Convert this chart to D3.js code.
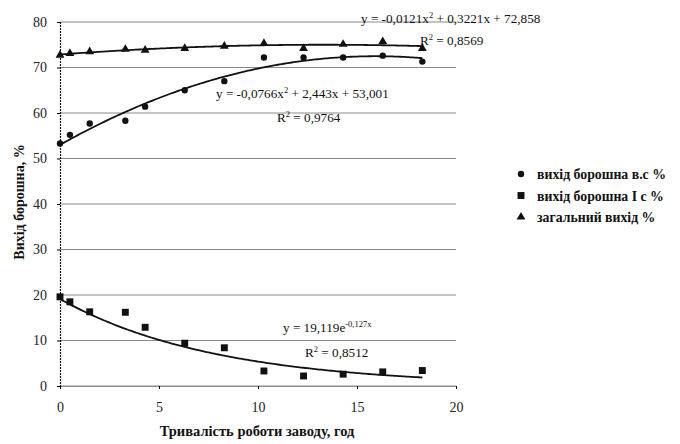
<!DOCTYPE html>
<meta charset="utf-8">
<script src="https://cdn.jsdelivr.net/npm/d3@7"></script>
<style>
body { margin: 0; background: #fff; }
text { font-family: "Liberation Serif", "DejaVu Serif", serif; fill: #111; }
.grid line { stroke: #8a8a8a; stroke-width: 1px; }
.axis text { font-size: 14px; fill: #222; }
.trend { fill: none; stroke: #111; stroke-width: 1.8px; }
.eq { font-size: 13.2px; }
.legend text { font-size: 13.8px; font-weight: bold; }
</style>
<body>
<script>

// hours of mill operation
var hours = [0, 0.5, 1.5, 3.3, 4.3, 6.3, 8.3, 10.3, 12.3, 14.3, 16.3, 18.3];

// flour yields, %
var yieldTop = [53.3, 55.2, 57.7, 58.3, 61.4, 65.0, 67.0, 72.2, 72.2, 72.2, 72.6, 71.3];
var yieldFirst = [19.6, 18.5, 16.3, 16.2, 12.9, 9.4, 8.4, 3.3, 2.2, 2.6, 3.1, 3.4];
var yieldTotal = [72.7, 73.1, 73.5, 74.0, 73.8, 74.2, 74.7, 75.3, 74.2, 75.1, 75.7, 74.2];

var seriesNames = ["вихід борошна в.с %", "вихід борошна I с %", "загальний вихід %"];

// trend line coefficients as printed on the chart
var polyTop = [53.001, 2.443, -0.0766];
var polyTotal = [72.858, 0.3221, -0.0121];
var expFirst = [19.119, -0.127];

var xTicks = [0, 5, 10, 15, 20];
var yTicks = [0, 10, 20, 30, 40, 50, 60, 70, 80];

var width = 680,
    height = 444;

var x = d3.scaleLinear().domain([0, 20]).range([60, 456]);
var y = d3.scaleLinear().domain([0, 80]).range([386, 22]);

var svg = d3.select("body").append("svg")
    .attr("width", width)
    .attr("height", height);

// horizontal gridlines
svg.append("g")
    .attr("class", "grid")
  .selectAll("line")
  .data(yTicks)
  .enter().append("line")
    .attr("x1", x(0))
    .attr("x2", x(20))
    .attr("y1", function(d) { return y(d); })
    .attr("y2", function(d) { return y(d); });

// y axis
var yAxis = svg.append("g")
    .attr("class", "axis")
    .attr("transform", "translate(" + x(0) + ",0)")
    .call(d3.axisLeft(y).tickValues(yTicks).tickSize(3).tickPadding(10).tickFormat(d3.format("d")));
yAxis.select(".domain").attr("stroke", "#111").attr("stroke-width", 1.2).attr("stroke-dasharray", "2,1");

// x axis
var xAxis = svg.append("g")
    .attr("class", "axis")
    .attr("transform", "translate(0," + y(0) + ")")
    .call(d3.axisBottom(x).tickValues(xTicks).tickSize(3).tickPadding(13).tickFormat(d3.format("d")));
xAxis.select(".domain").attr("stroke", "#8a8a8a");

// axis titles
svg.append("text")
    .attr("x", 257)
    .attr("y", 436)
    .attr("text-anchor", "middle")
    .style("font-size", "14.5px")
    .style("font-weight", "bold")
    .text("Тривалість роботи заводу, год");

svg.append("text")
    .attr("transform", "translate(24,202) rotate(-90)")
    .attr("text-anchor", "middle")
    .style("font-size", "14px")
    .style("font-weight", "bold")
    .text("Вихід борошна, %");

// trend lines
var xs = d3.range(0, 18.31, 0.1);
var line = d3.line()
    .x(function(d) { return x(d[0]); })
    .y(function(d) { return y(d[1]); });

function poly(c) {
  return function(t) { return c[0] + c[1] * t + c[2] * t * t; };
}
var fTop = poly(polyTop),
    fTotal = poly(polyTotal),
    fFirst = function(t) { return expFirst[0] * Math.exp(expFirst[1] * t); };

[fTop, fTotal, fFirst].forEach(function(f) {
  svg.append("path")
      .attr("class", "trend")
      .attr("d", line(xs.map(function(t) { return [t, f(t)]; })));
});

// markers
var symbols = [d3.symbolCircle, d3.symbolSquare, d3.symbolTriangle];
var sizes = [32, 48, 34];
[yieldTop, yieldFirst, yieldTotal].forEach(function(vals, i) {
  svg.append("g")
    .selectAll("path")
    .data(vals)
    .enter().append("path")
      .attr("d", d3.symbol().type(symbols[i]).size(sizes[i]))
      .attr("fill", "#111")
      .attr("transform", function(d, j) {
        return "translate(" + x(hours[j]) + "," + y(d) + ")";
      });
});

// trend equations
function eq(xp, yp, parts) {
  var t = svg.append("text")
      .attr("class", "eq")
      .attr("x", xp)
      .attr("y", yp);
  parts.forEach(function(p) {
    var s = t.append("tspan").text(p[0]);
    if (p[1] == "sup") s.attr("dy", -5).style("font-size", "8.5px");
    if (p[1] == "back") s.attr("dy", 5);
  });
}

eq(361, 23, [["y = -0,0121x"], ["2", "sup"], [" + 0,3221x + 72,858", "back"]]);
eq(420, 45, [["R"], ["2", "sup"], [" = 0,8569", "back"]]);
eq(216, 98, [["y = -0,0766x"], ["2", "sup"], [" + 2,443x + 53,001", "back"]]);
eq(277, 122, [["R"], ["2", "sup"], [" = 0,9764", "back"]]);
eq(283, 332, [["y = 19,119e"], ["-0,127x", "sup"]]);
eq(305, 357, [["R"], ["2", "sup"], [" = 0,8512", "back"]]);

// legend
var legend = svg.append("g")
    .attr("class", "legend")
  .selectAll("g")
  .data(seriesNames)
  .enter().append("g")
    .attr("transform", function(d, i) { return "translate(521," + (174 + i * 21.5) + ")"; });

legend.append("path")
    .attr("d", function(d, i) { return d3.symbol().type(symbols[i]).size(sizes[i])(); })
    .attr("fill", "#111");

legend.append("text")
    .attr("x", 16)
    .attr("y", 5)
    .text(function(d) { return d; });

</script>
</body>
</html>
